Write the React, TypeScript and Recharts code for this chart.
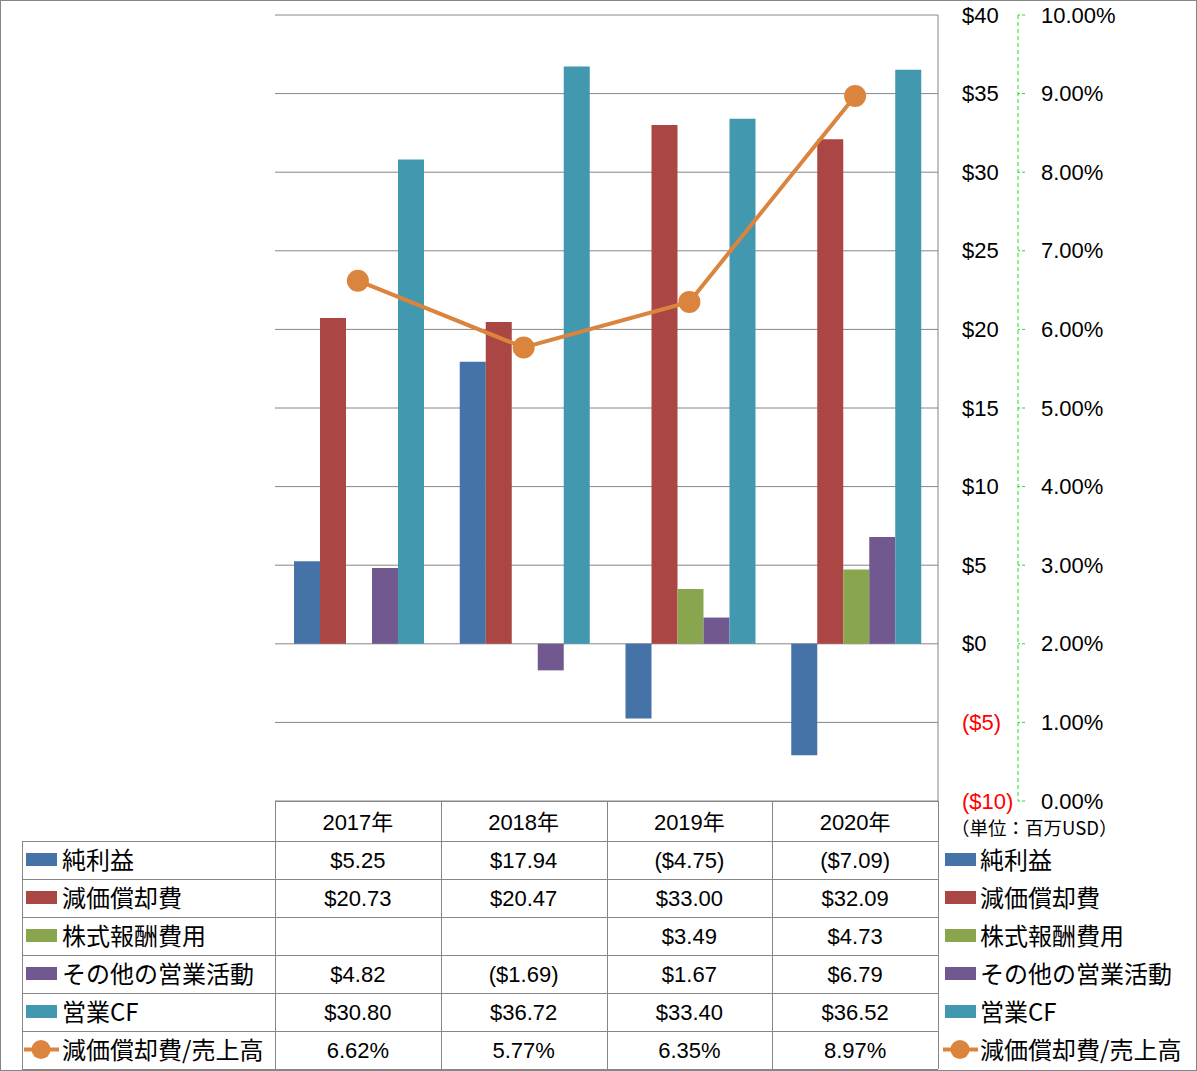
import React from 'react';
import { ComposedChart, Bar, Line, XAxis, YAxis, CartesianGrid } from 'recharts';

const years = ['2017年', '2018年', '2019年', '2020年'];
const netIncome = [5.25, 17.94, -4.75, -7.09];
const depreciation = [20.73, 20.47, 33.0, 32.09];
const stockComp: (number | null)[] = [null, null, 3.49, 4.73];
const otherOps = [4.82, -1.69, 1.67, 6.79];
const operatingCF = [30.8, 36.72, 33.4, 36.52];
const depRatio = [0.0662, 0.0577, 0.0635, 0.0897];

const dollarTicks = [-10, -5, 0, 5, 10, 15, 20, 25, 30, 35, 40];
const pctTicks = [0, 0.01, 0.02, 0.03, 0.04, 0.05, 0.06, 0.07, 0.08, 0.09, 0.1];

const seriesNames = ['純利益', '減価償却費', '株式報酬費用', 'その他の営業活動', '営業CF', '減価償却費/売上高'];
const seriesColors = ['#4572A7', '#AA4643', '#89A54E', '#71588F', '#4198AF', '#DB843D'];

const data = years.map((y, i) => ({
  year: y,
  netIncome: netIncome[i],
  depreciation: depreciation[i],
  stockComp: stockComp[i],
  otherOps: otherOps[i],
  operatingCF: operatingCF[i],
  depRatio: depRatio[i],
}));

const rowSeries: (number | null)[][] = [netIncome, depreciation, stockComp, otherOps, operatingCF, depRatio];

const fmtDollar = (v: number | null) => {
  if (v === null || v === undefined) return '';
  return v < 0 ? `($${Math.abs(v).toFixed(2)})` : `$${v.toFixed(2)}`;
};
const fmtPct = (v: number | null) => (v === null ? '' : `${(v * 100).toFixed(2)}%`);
const fmtAxisDollar = (v: number) => (v < 0 ? `($${Math.abs(v)})` : `$${v}`);

const NUM_FONT = "'Liberation Sans', 'Noto Sans CJK JP', sans-serif";
const JP_FONT = "'Noto Sans CJK JP', sans-serif";
const GRID = '#868686';

const W = 1197;
const H = 1071;
const PLOT_L = 275;
const PLOT_R = 938;
const PLOT_T = 15;
const PLOT_B = 801;

const DollarTick = (props: any) => {
  const { x, y, payload } = props;
  const v = payload.value as number;
  return (
    <text x={x} y={y} textAnchor="start" dominantBaseline="central" fontFamily={NUM_FONT} fontSize={22} fill={v < 0 ? '#FF0000' : '#000'}>
      {fmtAxisDollar(v)}
    </text>
  );
};

const PctTick = (props: any) => {
  const { x, y, payload } = props;
  return (
    <text x={x} y={y} textAnchor="start" dominantBaseline="central" fontFamily={NUM_FONT} fontSize={22} fill="#000">
      {fmtPct(payload.value)}
    </text>
  );
};

const LegendKey = ({ x, y, idx }: { x: number; y: number; idx: number }) => {
  const c = seriesColors[idx];
  if (idx === 5) {
    return (
      <g>
        <line x1={x - 2} y1={y} x2={x + 33} y2={y} stroke={c} strokeWidth={4} />
        <circle cx={x + 15} cy={y} r={9.5} fill={c} />
      </g>
    );
  }
  return <rect x={x} y={y - 6.5} width={31} height={13} fill={c} />;
};

const TableOverlay = () => {
  const colEdges = [275, 440.75, 606.5, 772.25, 938];
  const rowEdges = [801, 841, 879, 917, 955, 993, 1031, 1069];
  return (
    <svg width={W} height={H} style={{ position: 'absolute', left: 0, top: 0, pointerEvents: 'none' }}>
      <rect x={0.5} y={0.5} width={W - 1} height={H - 1} fill="none" stroke={GRID} strokeWidth={1} />
      {rowEdges.map((ry, i) => (
        <line key={`h${i}`} x1={i === 0 ? PLOT_L : 22} x2={PLOT_R} y1={ry + 0.5} y2={ry + 0.5} stroke={GRID} strokeWidth={1} />
      ))}
      <line x1={22.5} x2={22.5} y1={841} y2={1069} stroke={GRID} strokeWidth={1} />
      {colEdges.map((cx, i) => (
        <line key={`v${i}`} x1={Math.round(cx) + 0.5} x2={Math.round(cx) + 0.5} y1={801} y2={1069} stroke={GRID} strokeWidth={1} />
      ))}
      {years.map((y, i) => (
        <text key={`yr${i}`} x={(colEdges[i] + colEdges[i + 1]) / 2} y={822} textAnchor="middle" dominantBaseline="central" fontFamily={NUM_FONT} fontSize={22} fill="#000">
          {y}
        </text>
      ))}
      {seriesNames.map((name, r) => {
        const cy = (rowEdges[r + 1] + rowEdges[r + 2]) / 2 + 0.5;
        return (
          <g key={`row${r}`}>
            <LegendKey x={26} y={cy - 1} idx={r} />
            <text x={62} y={cy - 2} dominantBaseline="central" fontFamily={JP_FONT} fontSize={24} fill="#000">
              {name}
            </text>
            {rowSeries[r].map((v, c) => (
              <text key={`c${c}`} x={(colEdges[c] + colEdges[c + 1]) / 2} y={cy} textAnchor="middle" dominantBaseline="central" fontFamily={NUM_FONT} fontSize={22} fill="#000">
                {r === 5 ? fmtPct(v) : fmtDollar(v)}
              </text>
            ))}
            <LegendKey x={945} y={cy - 1} idx={r} />
            <text x={980} y={cy - 2} dominantBaseline="central" fontFamily={JP_FONT} fontSize={24} fill="#000">
              {name}
            </text>
          </g>
        );
      })}
      <text x={951} y={827} dominantBaseline="central" fontFamily={JP_FONT} fontSize={18.5} fill="#000">
        （単位：百万USD）
      </text>
    </svg>
  );
};

export default function App() {
  return (
    <div style={{ position: 'absolute', left: 0, top: 0, width: W, height: H, background: '#fff', fontFamily: NUM_FONT }}>
      <div style={{ position: 'absolute', left: 0, top: 0 }}>
        <ComposedChart
          width={W}
          height={H}
          data={data}
          margin={{ top: PLOT_T, right: 0, bottom: H - PLOT_B, left: PLOT_L }}
          barCategoryGap={19}
          barGap={0}
        >
          <CartesianGrid yAxisId="dollar" vertical={false} horizontal stroke={GRID} strokeWidth={1} />
          <XAxis dataKey="year" hide />
          <YAxis
            yAxisId="dollar"
            orientation="right"
            width={80}
            domain={[-10, 40]}
            ticks={dollarTicks}
            interval={0}
            axisLine={{ stroke: GRID, strokeWidth: 1 }}
            tickLine={false}
            tickSize={0}
            tickMargin={24}
            tick={<DollarTick />}
          />
          <YAxis
            yAxisId="pct"
            orientation="right"
            width={179}
            domain={[0, 0.1]}
            ticks={pctTicks}
            interval={0}
            axisLine={{ stroke: '#22DD22', strokeWidth: 1, strokeDasharray: '4 3' }}
            tickLine={{ stroke: '#22DD22', strokeWidth: 1, strokeDasharray: '3 2' }}
            tickSize={7}
            tickMargin={16}
            tick={<PctTick />}
          />
          <Bar yAxisId="dollar" dataKey="netIncome" fill={seriesColors[0]} isAnimationActive={false} />
          <Bar yAxisId="dollar" dataKey="depreciation" fill={seriesColors[1]} isAnimationActive={false} />
          <Bar yAxisId="dollar" dataKey="stockComp" fill={seriesColors[2]} isAnimationActive={false} />
          <Bar yAxisId="dollar" dataKey="otherOps" fill={seriesColors[3]} isAnimationActive={false} />
          <Bar yAxisId="dollar" dataKey="operatingCF" fill={seriesColors[4]} isAnimationActive={false} />
          <Line
            yAxisId="pct"
            dataKey="depRatio"
            stroke={seriesColors[5]}
            strokeWidth={4}
            dot={{ r: 11, fill: seriesColors[5], stroke: seriesColors[5], strokeWidth: 0 }}
            activeDot={false}
            isAnimationActive={false}
          />
        </ComposedChart>
      </div>
      <TableOverlay />
    </div>
  );
}
